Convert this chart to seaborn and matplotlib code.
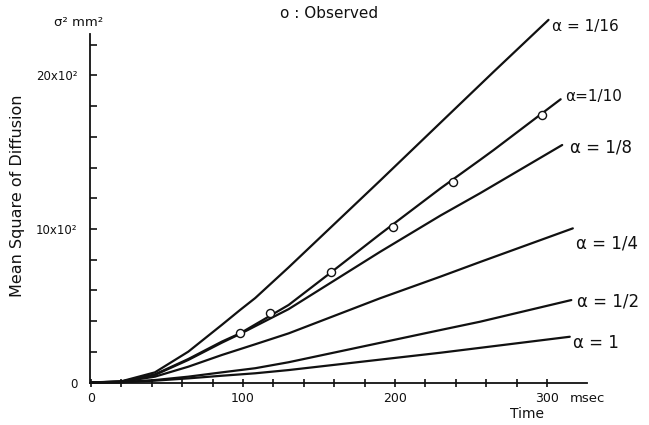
import numpy as np
import pandas as pd
import matplotlib
matplotlib.use("Agg")
import matplotlib.pyplot as plt
import seaborn as sns

# Mean square of diffusion (mm^2) against time (msec) for several alpha values
a16_t = [0, 20, 42, 64, 86, 98, 108, 130, 190, 230, 265, 301]
a16_v = [0, 8, 66, 201, 375, 472, 550, 750, 1313, 1693, 2025, 2362]

a10_t = [0, 20, 42, 64, 86, 98, 130, 158, 190, 230, 256, 265, 309]
a10_v = [0, 6, 53, 153, 266, 320, 505, 718, 965, 1265, 1450, 1515, 1845]

a8_t = [0, 20, 42, 64, 86, 98, 130, 190, 230, 256, 310]
a8_v = [0, 6, 49, 147, 259, 316, 478, 850, 1088, 1233, 1547]

a4_t = [0, 20, 42, 64, 86, 108, 130, 190, 230, 256, 317]
a4_v = [0, 4, 38, 103, 179, 249, 320, 548, 690, 785, 1004]

a2_t = [0, 20, 42, 64, 86, 108, 130, 230, 256, 316]
a2_v = [0, 2, 16, 38, 66, 93, 132, 342, 396, 537]

a1_t = [0, 20, 42, 64, 86, 108, 130, 230, 315]
a1_v = [0, 1.5, 12, 27, 44, 60, 81, 194, 298]

obs_t = [98, 118, 158, 199, 238, 297]
obs_v = [320, 455, 718, 1011, 1304, 1745]

curve_names = ["α = 1/16", "α=1/10", "α = 1/8", "α = 1/4", "α = 1/2", "α = 1"]
curve_t = [a16_t, a10_t, a8_t, a4_t, a2_t, a1_t]
curve_v = [a16_v, a10_v, a8_v, a4_v, a2_v, a1_v]

xtick_vals = list(range(0, 301, 20))
xtick_labels = ["0" if v == 0 else (str(v) if v % 100 == 0 else "") for v in xtick_vals]
ytick_vals = list(range(0, 2201, 200))
ytick_labels = {0: "0", 1000: "10x10²", 2000: "20x10²"}

frames = []
for name, t, v in zip(curve_names, curve_t, curve_v):
    frames.append(pd.DataFrame({"t": t, "v": v, "alpha": name}))
df = pd.concat(frames, ignore_index=True)

sns.set_theme(style="white")
plt.rcParams["font.family"] = ["DejaVu Sans"]

W, H = 649, 425
fig = plt.figure(figsize=(W / 100, H / 100), dpi=100)
x_left, x_right = 90, 586.5
y_bot, y_top = 382.5, 34.0
ax = fig.add_axes([x_left / W, (H - y_bot) / H, (x_right - x_left) / W, (y_bot - y_top) / H])

sns.lineplot(data=df, x="t", y="v", units="alpha", estimator=None, sort=False,
             color="#111111", linewidth=1.6, ax=ax, legend=False)
for ln in ax.lines:
    ln.set_clip_on(False)
    ln.set_solid_joinstyle("round")

sns.scatterplot(x=obs_t, y=obs_v, marker="o", s=34, facecolor="white",
                edgecolor="#111111", linewidth=1.0, zorder=4, ax=ax, legend=False)
for c in ax.collections:
    c.set_clip_on(False)

ax.set_xlim(-0.7, 326)
ax.set_ylim(0, 2270)
ax.set_xlabel("")
ax.set_ylabel("")

for s in ("top", "right"):
    ax.spines[s].set_visible(False)
for s in ("left", "bottom"):
    ax.spines[s].set_color("#111111")
    ax.spines[s].set_linewidth(1.3)

ax.set_xticks(xtick_vals)
ax.set_xticklabels(xtick_labels)
ax.set_yticks(ytick_vals)
ax.set_yticklabels([ytick_labels.get(v, "") for v in ytick_vals])
ax.tick_params(axis="x", direction="inout", length=6, width=1.2, colors="#111111",
               labelsize=9, pad=4, bottom=True)
ax.tick_params(axis="y", direction="in", length=5, width=1.2, colors="#111111",
               labelsize=8.5, pad=9, left=True)
ax.grid(False)


def px(x, y):
    return x / W, 1 - y / H


# curve labels at the right-hand ends of the lines
label_pos = [(552, 27), (565, 97), (570, 148), (576, 243), (577, 302), (573, 343)]
label_size = [11, 11, 12, 12, 12, 12]
for name, (lx, ly), fs in zip(curve_names, label_pos, label_size):
    fig.text(*px(lx, ly), name, fontsize=fs, ha="left", va="center", color="#111111")

fig.text(*px(280, 14), "o : Observed", fontsize=11, ha="left", va="center", color="#111111")
fig.text(*px(54, 22), "σ² mm²", fontsize=9.5, ha="left", va="center", color="#111111")
fig.text(*px(18, 196), "Mean Square of Diffusion", fontsize=11.5, rotation=90,
         ha="center", va="center", color="#111111")
fig.text(*px(527, 414), "Time", fontsize=10, ha="center", va="center", color="#111111")
fig.text(*px(570, 398), "msec", fontsize=9.5, ha="left", va="center", color="#111111")

fig.savefig("out.png", dpi=100, facecolor="white")
